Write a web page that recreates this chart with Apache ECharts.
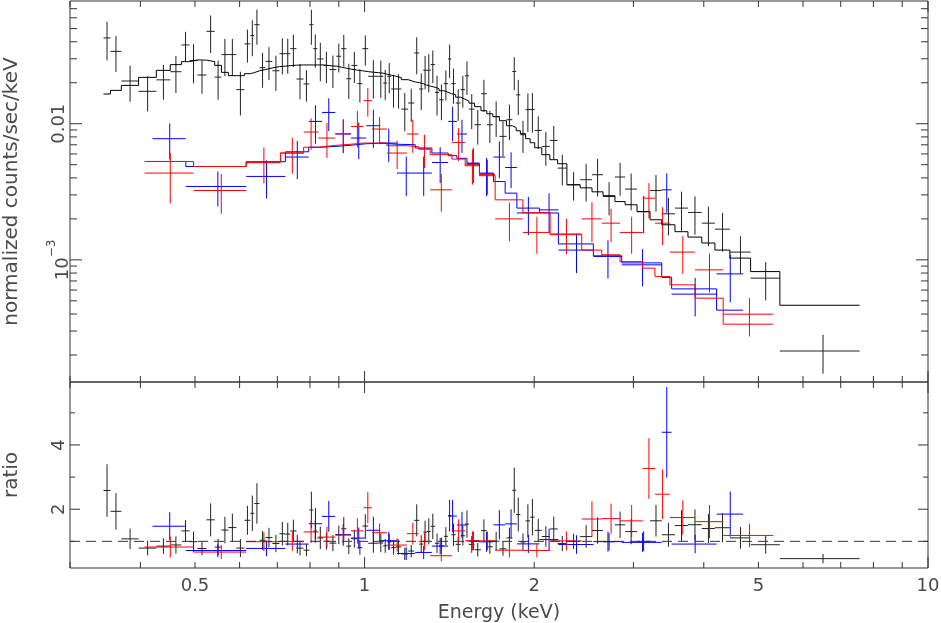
<!DOCTYPE html>
<html>
<head>
<meta charset="utf-8">
<script src="https://cdn.jsdelivr.net/npm/echarts@6/dist/echarts.min.js"></script>
<style>
  html, body { margin: 0; background: #fff; }
  #chart { width: 941px; height: 623px; }
</style>
</head>
<body>
<div id="chart"></div>
<script>
// bin edges (keV), flux and 1-sigma error (counts/sec/keV), folded model per bin
var blackEdges = [0.344, 0.354, 0.370, 0.397, 0.427, 0.452, 0.473, 0.489, 0.505, 0.524,
  0.542, 0.557, 0.573, 0.592, 0.612, 0.627, 0.637, 0.651, 0.667, 0.686,
  0.706, 0.723, 0.738, 0.757, 0.779, 0.798, 0.811, 0.824, 0.845, 0.866,
  0.891, 0.909, 0.928, 0.947, 0.971, 0.991, 1.015, 1.058, 1.079, 1.097,
  1.115, 1.136, 1.162, 1.195, 1.225, 1.250, 1.271, 1.290, 1.310, 1.333,
  1.356, 1.382, 1.406, 1.425, 1.451, 1.481, 1.507, 1.532, 1.567, 1.609,
  1.648, 1.689, 1.735, 1.786, 1.829, 1.858, 1.890, 1.931, 1.967, 2.004,
  2.063, 2.132, 2.201, 2.286, 2.413, 2.533, 2.650, 2.782, 2.900, 3.045,
  3.211, 3.369, 3.555, 3.749, 3.967, 4.186, 4.450, 4.843, 5.459, 7.564];
var blackFlux = [0.0427, 0.0340, 0.0206, 0.0173, 0.0210, 0.0241, 0.0379, 0.0291, 0.0228, 0.0477,
  0.0220, 0.0322, 0.0322, 0.0178, 0.0386, 0.0444, 0.0534, 0.0258, 0.0287, 0.0245,
  0.0327, 0.0327, 0.0356, 0.0213, 0.0196, 0.0534, 0.0356, 0.0299, 0.0268, 0.0250,
  0.0313, 0.0356, 0.0214, 0.0268, 0.0197, 0.0356, 0.0223, 0.0223, 0.0199, 0.0223,
  0.0180, 0.0180, 0.0128, 0.0142, 0.0331, 0.0180, 0.0247, 0.0247, 0.0272, 0.0170,
  0.0150, 0.0197, 0.0299, 0.0197, 0.0142, 0.0178, 0.0225, 0.0128, 0.00983, 0.0166,
  0.00983, 0.0113, 0.00807, 0.0107, 0.0242, 0.0163, 0.00830, 0.0127, 0.0127, 0.00893,
  0.00681, 0.00754, 0.00472, 0.00356, 0.00388, 0.00422, 0.00292, 0.00406, 0.00331, 0.00226,
  0.00323, 0.00218, 0.00240, 0.00223, 0.00186, 0.00168, 0.00114, 0.000734, 0.000214];
var blackErr = [0.0135, 0.0100, 0.0061, 0.0050, 0.0060, 0.0073, 0.0094, 0.0093, 0.0062, 0.0147,
  0.0070, 0.0098, 0.0098, 0.0063, 0.0105, 0.0131, 0.0154, 0.0074, 0.0078, 0.0071,
  0.0097, 0.0094, 0.0095, 0.0062, 0.0051, 0.0154, 0.0098, 0.0094, 0.0070, 0.0067,
  0.0075, 0.0093, 0.0062, 0.0069, 0.0054, 0.0089, 0.0070, 0.0068, 0.0050, 0.0056,
  0.0049, 0.0051, 0.0040, 0.0039, 0.0100, 0.0054, 0.0068, 0.0077, 0.0073, 0.0055,
  0.0044, 0.0049, 0.0082, 0.0057, 0.0037, 0.0047, 0.0062, 0.0037, 0.0028, 0.0044,
  0.0026, 0.0033, 0.0023, 0.0031, 0.0066, 0.0047, 0.0022, 0.0040, 0.0041, 0.0024,
  0.0019, 0.0021, 0.0012, 0.00084, 0.0012, 0.0013, 0.0008, 0.0011, 0.0010, 0.00069,
  0.00097, 0.00067, 0.00077, 0.00070, 0.00060, 0.00053, 0.00035, 0.00023, 0.000068];
var blackModel = [0.01653, 0.01758, 0.01912, 0.0219, 0.02466, 0.02716, 0.02857, 0.02941, 0.02931, 0.02857,
  0.02684, 0.02384, 0.02254, 0.02254, 0.02332, 0.02371, 0.0245, 0.0250, 0.02568, 0.02625,
  0.02647, 0.0267, 0.02692, 0.02702, 0.02702, 0.02702, 0.02702, 0.02702, 0.0267, 0.02647,
  0.02603, 0.02559, 0.02516, 0.02474, 0.0245, 0.02412, 0.02371, 0.02351, 0.02312, 0.02273,
  0.02235, 0.02179, 0.02106, 0.02036, 0.02002, 0.01968, 0.01919, 0.01887, 0.01855, 0.01809,
  0.01748, 0.01704, 0.01662, 0.01634, 0.01566, 0.01514, 0.01464, 0.01415, 0.01334, 0.01246,
  0.01184, 0.01126, 0.01052, 0.00967, 0.00935, 0.00888, 0.00845, 0.00776, 0.00725, 0.00666,
  0.00592, 0.00544, 0.00508, 0.00356, 0.00338, 0.00316, 0.00296, 0.00268, 0.00254, 0.00226,
  0.00197, 0.00181, 0.00161, 0.00147, 0.00133, 0.00118, 0.00103, 0.00082, 0.000464];

var redEdges = [0.4069, 0.4970, 0.6163, 0.7090, 0.7795, 0.8278, 0.8871, 0.9460, 0.9959, 1.0307,
  1.0957, 1.1891, 1.2466, 1.3075, 1.4289, 1.5083, 1.5992, 1.7050, 1.9095, 2.1346,
  2.4289, 2.6358, 2.8407, 3.1162, 3.2768, 3.4834, 3.8586, 4.3301, 5.3114];
var redFlux = [0.00434, 0.00323, 0.00517, 0.00609, 0.00869, 0.00785, 0.00844, 0.00955, 0.01476, 0.00914,
  0.00609, 0.0084, 0.00652, 0.00327, 0.00729, 0.0050, 0.00422, 0.0020, 0.00159, 0.00155,
  0.0020, 0.00186, 0.00159, 0.00284, 0.00186, 0.00114, 0.000844, 0.000399];
var redErr = [0.00174, 0.00105, 0.00153, 0.0018, 0.00227, 0.00226, 0.00236, 0.00287, 0.0035, 0.00208,
  0.00144, 0.0023, 0.00179, 0.00101, 0.00198, 0.00144, 0.00121, 0.00063, 0.00048, 0.00045,
  0.00065, 0.00051, 0.00048, 0.00082, 0.00058, 0.00035, 0.00027, 0.000125];
var redModel = [0.00528, 0.00485, 0.00523, 0.00609, 0.00672, 0.00693, 0.00707, 0.00721, 0.00721, 0.00721,
  0.00689, 0.00678, 0.00652, 0.00592, 0.0055, 0.00491, 0.00415, 0.00276, 0.00222, 0.00153,
  0.00118, 0.00109, 0.000971, 0.000869, 0.000754, 0.000655, 0.000523, 0.000337];

var blueEdges = [0.4203, 0.4816, 0.6163, 0.7234, 0.7957, 0.8405, 0.8871, 0.9460, 1.0070, 1.0662,
  1.1413, 1.2300, 1.3165, 1.4074, 1.4584, 1.5193, 1.5992, 1.6932, 1.7761, 1.8633,
  2.0428, 2.2080, 2.5468, 2.8605, 3.3685, 3.5075, 4.2150, 4.6989];
var blueFlux = [0.00776, 0.00346, 0.0041, 0.00569, 0.0104, 0.0121, 0.0084, 0.00785, 0.00967, 0.00721,
  0.00434, 0.00434, 0.00519, 0.0104, 0.0084, 0.00514, 0.00427, 0.00569, 0.00477, 0.00221,
  0.00233, 0.00118, 0.00106, 0.000919, 0.00327, 0.00056, 0.000789];
var blueErr = [0.0023, 0.0010, 0.00128, 0.00178, 0.00326, 0.00327, 0.0023, 0.00236, 0.00303, 0.00198,
  0.00139, 0.00139, 0.00152, 0.00294, 0.0023, 0.00148, 0.00134, 0.00171, 0.0014, 0.00069,
  0.00075, 0.00038, 0.00033, 0.00028, 0.00105, 0.000176, 0.0003];
var blueModel = [0.00528, 0.00485, 0.00526, 0.00622, 0.00672, 0.00681, 0.00695, 0.00713, 0.00719, 0.00707,
  0.00701, 0.00663, 0.00609, 0.00582, 0.00557, 0.00508, 0.00434, 0.00376, 0.00309, 0.0024,
  0.00221, 0.00131, 0.00107, 0.00095, 0.000744, 0.000612, 0.000427];

// axis ranges and ticks
var energyRange = [0.3, 10];
var fluxRange = [1.267e-4, 0.0797];
var ratioRange = [0.17, 5.96];
var energyMinor = [0.3, 0.4, 0.5, 0.6, 0.7, 0.8, 0.9, 2, 3, 4, 5, 6, 7, 8, 9];
var energyMajor = [1, 10];
var energyLabels = [0.5, 1, 2, 5, 10];
var fluxMinor = [2e-4, 3e-4, 4e-4, 5e-4, 6e-4, 7e-4, 8e-4, 9e-4,
  2e-3, 3e-3, 4e-3, 5e-3, 6e-3, 7e-3, 8e-3, 9e-3, 0.02, 0.03, 0.04, 0.05, 0.06, 0.07];
var fluxMajor = [1e-3, 1e-2];
var ratioMinor = [1, 3, 5];
var ratioMajor = [2, 4];
var ratioLabels = [2, 4];

var FONT = 'DejaVu Sans';
var TEXT = '#4a4a4a';

function points(edges, vals, errs, model) {
  return vals.map(function (v, i) {
    var m = model ? model[i] : 1;
    return [(edges[i] + edges[i + 1]) / 2, v / m, edges[i], edges[i + 1], errs[i] / m];
  });
}

function steps(edges, model) {
  var out = [];
  model.forEach(function (m, i) {
    out.push([edges[i], m], [edges[i + 1], m]);
  });
  return out;
}

function crossSeries(gi, data, color) {
  return {
    type: 'custom',
    xAxisIndex: gi,
    yAxisIndex: gi,
    silent: true,
    data: data,
    encode: { x: 0, y: 1 },
    renderItem: function (params, api) {
      var y = api.value(1), e = api.value(4);
      var a = api.coord([api.value(2), y]);
      var b = api.coord([api.value(3), y]);
      var t = api.coord([api.value(0), y + e]);
      var d = api.coord([api.value(0), y - e]);
      var st = { stroke: color, lineWidth: 1 };
      return {
        type: 'group',
        children: [
          { type: 'line', shape: { x1: a[0], y1: a[1], x2: b[0], y2: b[1] }, style: st },
          { type: 'line', shape: { x1: t[0], y1: t[1], x2: d[0], y2: d[1] }, style: st }
        ]
      };
    }
  };
}

function modelSeries(gi, data, color) {
  return {
    type: 'line',
    xAxisIndex: gi,
    yAxisIndex: gi,
    data: data,
    symbol: 'none',
    silent: true,
    lineStyle: { color: color, width: 1 },
    z: 3
  };
}

// frame ticks and tick labels, placed through the axes' own scales
function frameSeries(gi, yRange, yMinor, yMajor, yLabels, yFmt, lens, xLabelsOn) {
  return {
    type: 'custom',
    xAxisIndex: gi,
    yAxisIndex: gi,
    silent: true,
    data: [[1, yRange[0] * 2]],
    z: 5,
    renderItem: function (params, api) {
      var bl = api.coord([energyRange[0], yRange[0]]);
      var tr = api.coord([energyRange[1], yRange[1]]);
      var kids = [];
      var st = { stroke: '#333', lineWidth: 1 };
      function xt(v, len) {
        var x = api.coord([v, yRange[0]])[0];
        kids.push({ type: 'line', shape: { x1: x, y1: bl[1], x2: x, y2: bl[1] - len }, style: st });
        kids.push({ type: 'line', shape: { x1: x, y1: tr[1], x2: x, y2: tr[1] + len }, style: st });
      }
      function yt(v, len) {
        var y = api.coord([energyRange[0], v])[1];
        kids.push({ type: 'line', shape: { x1: bl[0], y1: y, x2: bl[0] + len, y2: y }, style: st });
        kids.push({ type: 'line', shape: { x1: tr[0], y1: y, x2: tr[0] - len, y2: y }, style: st });
      }
      energyMinor.forEach(function (v) { xt(v, lens[0]); });
      energyMajor.forEach(function (v) { xt(v, lens[1]); });
      yMinor.forEach(function (v) { yt(v, lens[2]); });
      yMajor.forEach(function (v) { yt(v, lens[3]); });
      yLabels.forEach(function (v) {
        var y = api.coord([energyRange[0], v])[1];
        kids.push({
          type: 'text', x: bl[0] - 11, y: y, rotation: Math.PI / 2,
          style: {
            text: yFmt(v), x: 0, y: 0, align: 'center', verticalAlign: 'middle',
            fill: TEXT, fontFamily: FONT, fontSize: 18,
            rich: {
              b: { fontSize: 18, fontFamily: FONT, fill: TEXT, lineHeight: 26, verticalAlign: 'bottom' },
              s: { fontSize: 12, fontFamily: FONT, fill: TEXT, lineHeight: 26, verticalAlign: 'top' }
            }
          }
        });
      });
      if (xLabelsOn) {
        energyLabels.forEach(function (v) {
          var x = api.coord([v, yRange[0]])[0];
          kids.push({
            type: 'text', x: x, y: bl[1] + 18,
            style: { text: String(v), x: 0, y: 0, align: 'center', verticalAlign: 'middle', fill: TEXT, fontFamily: FONT, fontSize: 18 }
          });
        });
      }
      return { type: 'group', children: kids };
    }
  };
}

function fluxFmt(v) {
  return v === 0.01 ? '0.01' : '{b|10}{s|\u22123}';
}

var chart = echarts.init(document.getElementById('chart'));
var gridStyle = {
  show: true, borderColor: '#333', borderWidth: 1, backgroundColor: 'transparent',
  outerBoundsMode: 'none', containLabel: false
};
var plainAxis = {
  axisLine: { show: false }, axisTick: { show: false }, axisLabel: { show: false }, splitLine: { show: false }
};

var option = {
  animation: false,
  backgroundColor: '#fff',
  grid: [
    Object.assign({ left: 70, right: 13, top: 1, height: 381 }, gridStyle),
    Object.assign({ left: 70, right: 13, top: 382, height: 186 }, gridStyle)
  ],
  xAxis: [
    Object.assign({ type: 'log', gridIndex: 0, min: energyRange[0], max: energyRange[1] }, plainAxis),
    Object.assign({
      type: 'log', gridIndex: 1, min: energyRange[0], max: energyRange[1],
      name: 'Energy (keV)', nameLocation: 'middle', nameGap: 36,
      nameTextStyle: { fontFamily: FONT, fontSize: 19, color: TEXT }
    }, plainAxis)
  ],
  yAxis: [
    Object.assign({
      type: 'log', gridIndex: 0, min: fluxRange[0], max: fluxRange[1],
      name: 'normalized counts/sec/keV', nameLocation: 'middle', nameGap: 48,
      nameTextStyle: { fontFamily: FONT, fontSize: 20, color: TEXT }
    }, plainAxis),
    Object.assign({
      type: 'value', gridIndex: 1, min: ratioRange[0], max: ratioRange[1],
      name: 'ratio', nameLocation: 'middle', nameGap: 48,
      nameTextStyle: { fontFamily: FONT, fontSize: 20, color: TEXT }
    }, plainAxis)
  ],
  series: [
    crossSeries(0, points(blackEdges, blackFlux, blackErr), '#222'),
    crossSeries(0, points(blueEdges, blueFlux, blueErr), '#0000ff'),
    crossSeries(0, points(redEdges, redFlux, redErr), '#ff0000'),
    modelSeries(0, steps(blackEdges, blackModel), '#000'),
    modelSeries(0, steps(blueEdges, blueModel), '#0000ff'),
    modelSeries(0, steps(redEdges, redModel), '#ff0000'),
    crossSeries(1, points(blackEdges, blackFlux, blackErr, blackModel), '#222'),
    crossSeries(1, points(blueEdges, blueFlux, blueErr, blueModel), '#0000ff'),
    crossSeries(1, points(redEdges, redFlux, redErr, redModel), '#ff0000'),
    {
      type: 'line', xAxisIndex: 1, yAxisIndex: 1, symbol: 'none', silent: true,
      data: [[energyRange[0], 1], [energyRange[1], 1]],
      lineStyle: { color: '#333', width: 1, type: [10, 6] }
    },
    frameSeries(0, fluxRange, fluxMinor, fluxMajor, [0.01, 0.001], fluxFmt, [6, 11, 7, 12], false),
    frameSeries(1, ratioRange, ratioMinor, ratioMajor, ratioLabels, String, [6, 11, 5, 10], true)
  ]
};

chart.setOption(option);
</script>
</body>
</html>
